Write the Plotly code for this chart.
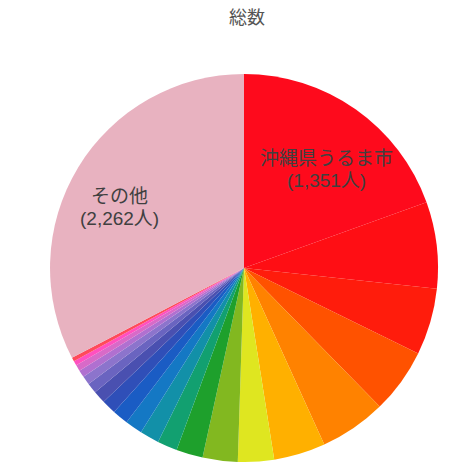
import math
import plotly.graph_objects as go

# --- data ---
labels = [
    "沖縄県うるま市", "地域2", "地域3", "地域4", "地域5", "地域6", "地域7",
    "地域8", "地域9", "地域10", "地域11", "地域12", "地域13", "地域14",
    "地域15", "地域16", "地域17", "地域18", "地域19", "地域20", "地域21",
    "その他",
]
values = [
    1351, 500, 384, 375, 384, 298, 208,
    202, 154, 115, 111, 100, 92, 83,
    73, 60, 50, 42, 35, 27, 23,
    2262,
]
show_label = ["沖縄県うるま市", "その他"]
colors = [
    "#fe0a1c", "#ff0e14", "#ff1c0c", "#ff5200", "#ff8200", "#ffb000", "#dfe620",
    "#82b820", "#1ea02c", "#12a070", "#1290a8", "#1478c4", "#1a5cc4", "#2f4fb8",
    "#4a50b0", "#6a64c0", "#8c74cc", "#b070d0", "#d86ac8", "#ff50c0", "#ff4a5a",
    "#e8b2c0",
]
title_text = "総数"

# --- layout / style ---
W, H = 474, 462
dom_x = [0.0948, 0.9348]
dom_y = [0.0, 0.8398]
label_r_frac = 0.67
label_nudge = {"沖縄県うるま市": (8, -8), "その他": (-13, -7)}  # px (x right, y up)
line_gap = 11
label_font = dict(family="Liberation Sans, Noto Sans CJK JP", size=19, color="#404040")

fig = go.Figure(
    go.Pie(
        labels=labels,
        values=values,
        textinfo="none",
        sort=False,
        direction="clockwise",
        rotation=0,
        marker=dict(colors=colors, line=dict(width=0)),
        hoverinfo="label+value+percent",
        showlegend=False,
        domain=dict(x=dom_x, y=dom_y),
    )
)

# label positions derived from slice mid-angles and the pie geometry
cx = (dom_x[0] + dom_x[1]) / 2 * W
cy = (dom_y[0] + dom_y[1]) / 2 * H
R = min((dom_x[1] - dom_x[0]) * W, (dom_y[1] - dom_y[0]) * H) / 2
total = sum(values)
cum = 0
for lab, val in zip(labels, values):
    start = cum
    cum += val
    if lab not in show_label:
        continue
    mid = (start + val / 2) / total * 2 * math.pi
    r = label_r_frac * R
    px = cx + r * math.sin(mid)
    py = cy + r * math.cos(mid)
    nx, ny = label_nudge.get(lab, (0, 0))
    for txt, dy in ((lab, line_gap), (f"({val:,}人)", -line_gap)):
        fig.add_annotation(
            x=px / W, y=py / H, xref="paper", yref="paper",
            text=txt, showarrow=False,
            xanchor="center", yanchor="middle",
            xshift=nx, yshift=ny + dy,
            font=label_font,
        )

fig.update_layout(
    width=W,
    height=H,
    margin=dict(l=0, r=0, t=0, b=0),
    paper_bgcolor="white",
    plot_bgcolor="white",
    title=dict(
        text=title_text,
        x=247 / W,
        xanchor="center",
        y=1 - 18 / H,
        yanchor="middle",
        yref="container",
        font=dict(family="Noto Sans CJK JP", size=18, color="#555555"),
    ),
)

fig.write_html(
    "out.html",
    config={"displayModeBar": False},
    post_script="document.body.style.margin='0';",
)
